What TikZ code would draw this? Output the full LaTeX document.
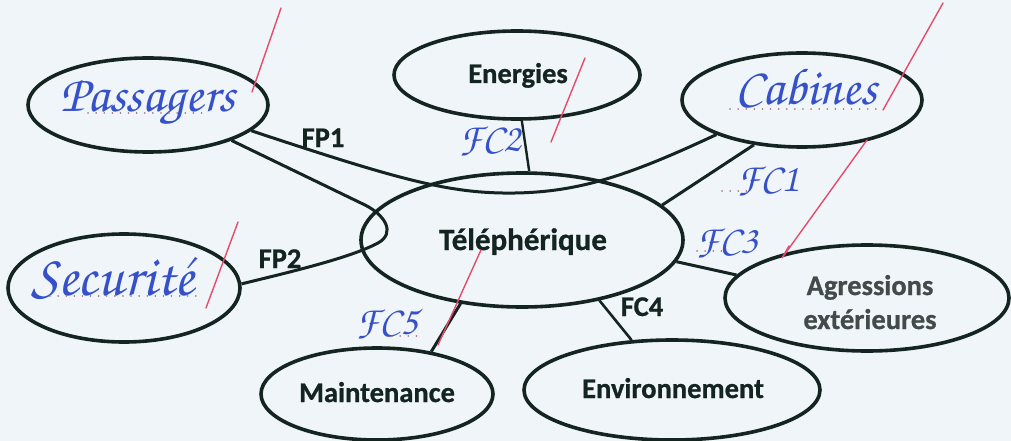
\documentclass[tikz,border=0pt]{standalone}
\usepackage[T1]{fontenc}
\usepackage{fontspec}
\setmainfont{Carlito}
\newfontface\labfont{Carlito Bold}[FakeBold=0.8]
\usetikzlibrary{shapes.geometric}
\newcommand{\handfont}{\fontencoding{T1}\fontfamily{pzc}\fontseries{mb}\fontshape{it}\selectfont}
\definecolor{ink}{HTML}{142420}
\definecolor{pen}{HTML}{3550C8}
\definecolor{redpen}{HTML}{E54B6B}
\definecolor{dotc}{HTML}{A87080}
\definecolor{graytxt}{HTML}{434B4A}
\definecolor{bg}{HTML}{F0F5F9}
\begin{document}
\begin{tikzpicture}[x=1pt,y=-1pt,
  ell/.style={draw=ink, line width=3.6pt, ellipse, inner sep=0pt},
  con/.style={draw=ink, line width=3pt},
  lab/.style={font=\labfont\fontsize{28.5}{32}\selectfont, text=ink, inner sep=0pt, anchor=base},
  hw/.style={font=\handfont\fontsize{52}{56}\selectfont, text=pen, inner sep=0pt, anchor=base},
  hwsmall/.style={font=\handfont\fontsize{40}{44}\selectfont, text=pen, inner sep=0pt, anchor=base},
  tick/.style={draw=redpen, line width=1.4pt, line cap=round},
  dots/.style={draw=dotc, line width=1.6pt, dash pattern=on 0.1pt off 8pt, line cap=round}]
\fill[bg] (0,0) rectangle (1011,441);
\useasboundingbox (0,0) rectangle (1011,441);

% ellipses
\node[ell, minimum width=240pt, minimum height=94pt]  (pass) at (148,105) {};
\node[ell, minimum width=246pt, minimum height=88pt]  (ener) at (517,75) {};
\node[ell, minimum width=240pt, minimum height=94pt]  (cab)  at (802,100) {};
\node[ell, minimum width=322pt, minimum height=134pt] (tel)  at (522,240) {};
\node[ell, minimum width=232pt, minimum height=108pt] (sec)  at (124,288) {};
\node[ell, minimum width=284pt, minimum height=106pt] (agr)  at (867,298) {};
\node[ell, minimum width=232pt, minimum height=92pt]  (main) at (377,394) {};
\node[ell, minimum width=296pt, minimum height=100pt] (env)  at (672,390) {};

% printed labels
\node[lab] (tEner) at (518,83) {Energies};
\node[lab, font=\labfont\fontsize{31}{34}\selectfont] (tTel) at (523,250) {Téléphérique};
\node[lab] (tMain) at (377,402) {Maintenance};
\node[lab] (tEnv)  at (673,398) {Environnement};
\node[lab, text=graytxt] (tAgr1) at (870,295) {Agressions};
\node[lab, text=graytxt] (tAgr2) at (870,329) {extérieures};
\node[lab] (tFP1) at (323,147) {FP1};
\node[lab] (tFP2) at (280,268) {FP2};
\node[lab] (tFC4) at (642,316) {FC4};

% connectors
\draw[con] (pass.-14) .. controls (400,180) and (450,194) .. (515,193)
           .. controls (580,192) and (630,175) .. (cab.-158);
\draw[con] (pass.-23) -- (365,205) .. controls (385,215) and (396,233) .. (378,243)
           .. controls (350,258) and (290,272) .. (sec.2);
\draw[con, line width=2.4pt] (ener.-84) -- (tel.84);
\draw[con] (tel.14) -- (cab.-137);
\draw[con] (tel.-8.5) -- (agr.170.6);
\draw[con, line width=2.6pt] (tel.-38.5) -- (env.129.8);
\draw[con] (tel.-134.5) -- (main.38.8);

% handwritten answers
\node[hw] (hPass) at (148,111) {Passagers};
\node[hw] (hCab)  at (806,105) {Cabines};
\node[hw, font=\handfont\fontsize{58}{62}\selectfont] (hSec) at (113,295) {Securité};
\node[hwsmall] (hFC2) at (490,151) {FC2};
\node[hwsmall] (hFC1) at (768,191) {FC1};
\node[hwsmall] (hFC3) at (727,253) {FC3};
\node[hwsmall] (hFC5) at (387,334) {FC5};

% dotted answer blanks
\coordinate (d1a) at (88,113);  \coordinate (d1b) at (206,113);
\coordinate (d2a) at (730,109); \coordinate (d2b) at (880,109);
\coordinate (d3a) at (50,296);  \coordinate (d3b) at (202,296);
\coordinate (d4a) at (722,191); \coordinate (d4b) at (752,191);
\coordinate (d5a) at (697,251); \coordinate (d5b) at (728,251);
\coordinate (d6a) at (392,336); \coordinate (d6b) at (420,336);
\draw[dots] (d1a) -- (d1b);
\draw[dots] (d2a) -- (d2b);
\draw[dots] (d3a) -- (d3b);
\draw[dots] (d4a) -- (d4b);
\draw[dots] (d5a) -- (d5b);
\draw[dots] (d6a) -- (d6b);

% red check marks
\coordinate (r1a) at (281,8);   \coordinate (r1b) at (252,92);
\coordinate (r2a) at (585,58);  \coordinate (r2b) at (551,142);
\coordinate (r3a) at (943,3);   \coordinate (r3b) at (883,110);
\coordinate (r3c) at (867,140); \coordinate (r3d) at (782,258);
\coordinate (r3e) at (789,246);
\coordinate (r4a) at (238,222); \coordinate (r4b) at (206,308);
\coordinate (r5a) at (481,250); \coordinate (r5b) at (438,345);
\draw[tick] (r1a) -- (r1b);
\draw[tick] (r2a) -- (r2b);
\draw[tick] (r3a) -- (r3b);
\draw[tick] (r3c) -- (r3d) -- (r3e);
\draw[tick] (r4a) -- (r4b);
\draw[tick] (r5a) -- (r5b);
\end{tikzpicture}
\end{document}
